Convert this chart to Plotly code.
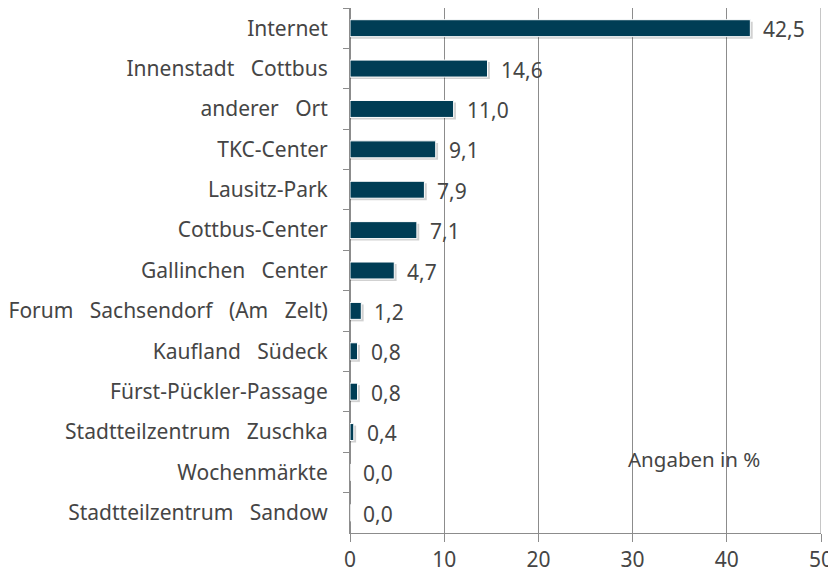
import plotly.graph_objects as go

categories = ["Internet", "Innenstadt   Cottbus", "anderer   Ort", "TKC-Center", "Lausitz-Park",
              "Cottbus-Center", "Gallinchen   Center", "Forum   Sachsendorf   (Am   Zelt)",
              "Kaufland   Südeck", "Fürst-Pückler-Passage", "Stadtteilzentrum   Zuschka",
              "Wochenmärkte", "Stadtteilzentrum   Sandow"]
values = [42.5, 14.6, 11.0, 9.1, 7.9, 7.1, 4.7, 1.2, 0.8, 0.8, 0.4, 0.0, 0.0]
labels = [f"{v:.1f}".replace(".", ",") for v in values]
x_ticks = [0, 10, 20, 30, 40, 50]

font_fam = "Noto Sans, Open Sans, sans-serif"
txt_col = "#454545"
bar_w = 0.42

fig = go.Figure()
# soft drop shadow behind each bar
fig.add_trace(go.Bar(
    y=categories, x=[v + 0.25 if v > 0 else 0 for v in values], orientation="h",
    marker=dict(color="rgba(0,0,0,0.18)", line=dict(width=0)),
    width=bar_w, offset=-bar_w / 2 + 0.05, hoverinfo="skip",
))
fig.add_trace(go.Bar(
    y=categories, x=values, orientation="h",
    marker=dict(color="#003D55", line=dict(color="white", width=1)),
    width=bar_w, offset=-bar_w / 2,
))
for c, v, l in zip(categories, values, labels):
    fig.add_annotation(x=v, y=c, text=l, showarrow=False, xanchor="left", xshift=11,
                       yshift=-1, font=dict(size=21, color=txt_col, family=font_fam))
fig.add_annotation(x=36.5, y="Wochenmärkte", text="Angaben in %", showarrow=False,
                   yshift=13, font=dict(size=20.5, color=txt_col, family=font_fam))

# the page body has an 8px margin, so the figure is offset by 8px
fig.update_layout(
    width=828, height=569,
    margin=dict(l=342, r=15, t=0, b=44, autoexpand=False),
    plot_bgcolor="white", paper_bgcolor="white",
    showlegend=False, barmode="overlay",
    xaxis=dict(range=[0, 50], tickvals=x_ticks, ticktext=[str(t) for t in x_ticks],
               showgrid=True, gridcolor="#8C8C8C", gridwidth=1,
               showline=True, linecolor="#8C8C8C", mirror=False,
               ticks="outside", ticklen=8, tickcolor="#8C8C8C",
               tickfont=dict(size=21, color=txt_col, family=font_fam),
               zeroline=True, zerolinecolor="#8C8C8C", fixedrange=True, automargin=False),
    yaxis=dict(autorange="reversed", showline=True, linecolor="#8C8C8C",
               ticks="outside", ticklen=6, tickcolor="#8C8C8C", tickson="boundaries",
               ticklabelstandoff=17,
               tickfont=dict(size=21, color=txt_col, family=font_fam),
               showgrid=False, fixedrange=True, automargin=False),
)
fig.add_shape(type="line", xref="x", yref="paper", x0=50, x1=50, y0=0, y1=1,
              line=dict(color="#8C8C8C", width=1))
fig.write_html("out.html")
